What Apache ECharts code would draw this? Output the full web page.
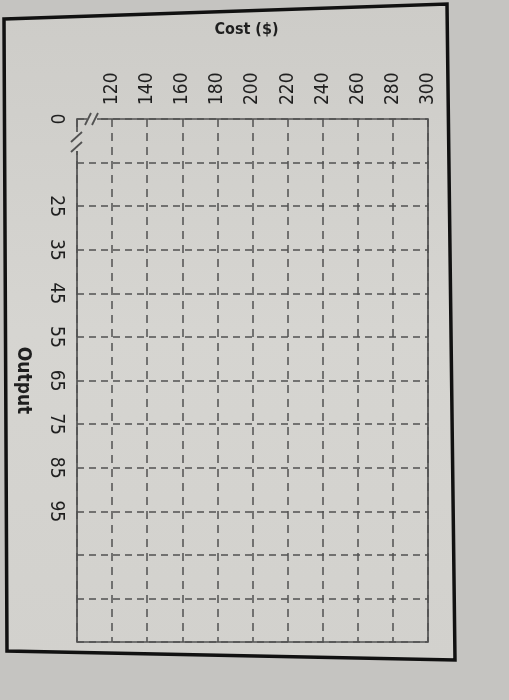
<!DOCTYPE html>
<html>
<head>
    <meta charset="utf-8">
    <title>Cost vs Output</title>
    <script src="https://cdn.jsdelivr.net/npm/echarts@6.0.0/dist/echarts.min.js"></script>
    <style>
        html, body { margin: 0; padding: 0; background: #c5c4c1; }
        #main { width: 509px; height: 700px; }
    </style>
</head>
<body>
    <div id="main"></div>
    <script type="text/javascript">
        // Cost axis (drawn across the top, photo is turned on its side)
        var costMin = 100;
        var costMax = 300;
        var costStep = 20;
        var costTicks = [120, 140, 160, 180, 200, 220, 240, 260, 280, 300];

        // Output axis (runs down the left side), blank slots are unlabeled grid lines
        var outputLabels = ['0', '', '25', '35', '45', '55', '65', '75', '85', '95', '', '', ''];

        var font = '"Liberation Sans Narrow", "DejaVu Sans Condensed", "Liberation Sans", sans-serif';
        var ink = '#1f1f1f';
        var gridInk = '#525252';
        var paper = '#d6d5d1';

        var chart = echarts.init(document.getElementById('main'));

        var option = {
            backgroundColor: 'transparent',
            animation: false,
            grid: {
                left: 77, top: 119, right: 81, bottom: 58,
                outerBoundsMode: 'none',
                containLabel: false,
                show: true,
                borderColor: gridInk,
                borderWidth: 1.7,
                backgroundColor: 'transparent'
            },
            xAxis: {
                type: 'value',
                position: 'top',
                min: costMin,
                max: costMax,
                interval: costStep,
                name: 'Cost ($)',
                nameLocation: 'middle',
                nameGap: 81,
                nameTextStyle: { fontFamily: font, fontSize: 16, fontWeight: 'bold', color: ink, padding: [0, 12, 0, 0] },
                axisLine: { show: false },
                axisTick: { show: false },
                axisLabel: {
                    rotate: -90,
                    margin: 14,
                    fontFamily: font,
                    fontSize: 19,
                    color: ink,
                    formatter: function (v) {
                        return costTicks.indexOf(v) >= 0 ? String(v) : '';
                    }
                },
                splitLine: {
                    show: true,
                    lineStyle: { color: gridInk, width: 1.5, type: [8, 6] }
                }
            },
            yAxis: {
                type: 'category',
                inverse: true,
                boundaryGap: false,
                data: outputLabels,
                name: 'Output',
                nameLocation: 'middle',
                nameRotate: -90,
                nameGap: 45,
                nameTextStyle: { fontFamily: font, fontSize: 19, fontWeight: 'bold', color: ink },
                axisLine: { show: false },
                axisTick: { show: false },
                axisLabel: {
                    rotate: -90,
                    margin: 12,
                    interval: 0,
                    fontFamily: font,
                    fontSize: 19,
                    color: ink
                },
                splitLine: {
                    show: true,
                    interval: 0,
                    lineStyle: { color: gridInk, width: 1.5, type: [7, 5] }
                }
            },
            series: []
        };
        chart.setOption(option);

        // page frame and the axis break marks, placed from the grid corner
        var corner = chart.convertToPixel({ xAxisIndex: 0, yAxisIndex: 0 }, [costMin, 0]);
        var cx = corner[0], cy = corner[1];
        var brk = { stroke: gridInk, lineWidth: 1.8 };

        chart.setOption({
            graphic: [
                {
                    type: 'polygon', z: -10, silent: true,
                    shape: { points: [[4, 19], [447, 4], [455, 660], [7, 651]] },
                    style: {
                        fill: new echarts.graphic.LinearGradient(0, 0, 0, 1, [
                            { offset: 0, color: '#cdccc8' },
                            { offset: 0.5, color: paper },
                            { offset: 1, color: '#d2d1cd' }
                        ]),
                        stroke: '#111', lineWidth: 3.5
                    }
                },
                // gap in the cost axis line
                { type: 'rect', z: 50, shape: { x: cx + 10, y: cy - 3, width: 10, height: 6 }, style: { fill: paper } },
                { type: 'line', z: 51, shape: { x1: cx + 8, y1: cy + 6, x2: cx + 14, y2: cy - 6 }, style: brk },
                { type: 'line', z: 51, shape: { x1: cx + 15, y1: cy + 6, x2: cx + 21, y2: cy - 6 }, style: brk },
                // gap in the output axis line
                { type: 'rect', z: 50, shape: { x: cx - 3, y: cy + 13, width: 6, height: 19 }, style: { fill: paper } },
                { type: 'line', z: 51, shape: { x1: cx - 6, y1: cy + 23, x2: cx + 5, y2: cy + 13 }, style: brk },
                { type: 'line', z: 51, shape: { x1: cx - 6, y1: cy + 33, x2: cx + 5, y2: cy + 23 }, style: brk }
            ]
        });
    </script>
</body>
</html>
